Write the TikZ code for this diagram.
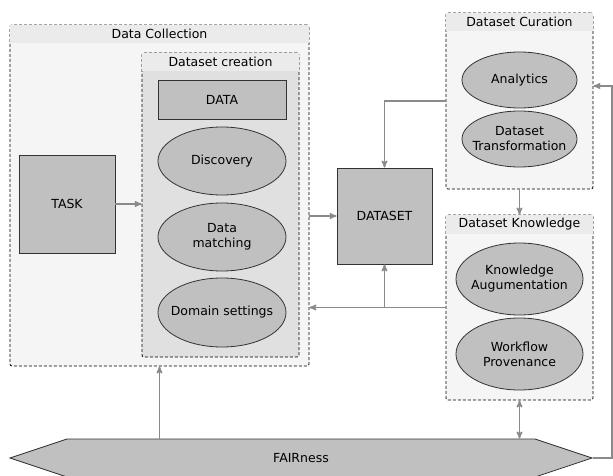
\documentclass[tikz,border=0pt]{standalone}
\usepackage{fontspec}
\setmainfont{DejaVu Sans}
\usepackage{xcolor}
\usepackage{tikz}
\usetikzlibrary{shapes}
\usetikzlibrary{arrows}
\definecolor{boxgray}{HTML}{F5F5F5}
\definecolor{bandgray}{HTML}{EBEBEB}
\definecolor{innergray}{HTML}{E0E0E0}
\definecolor{nodegray}{HTML}{C0C0C0}
\definecolor{linegray}{HTML}{8A8A8A}
\tikzset{
	main node/.style={rectangle,draw=black!80,fill=nodegray,line width=0.8pt,
		font=\fontsize{12.5}{15}\selectfont,align=center,inner sep=0pt},
	sub node/.style={ellipse,draw=black!80,fill=nodegray,line width=0.8pt,
		font=\fontsize{12.5}{15}\selectfont,align=center,inner xsep=-12pt,inner ysep=0pt},
	group box/.style={rectangle,draw=black,line width=0.8pt,
		dash pattern=on 3pt off 2pt,rounded corners=2pt,inner sep=0pt},
	band/.style={fill=bandgray},
	band text/.style={font=\fontsize{12.5}{15}\selectfont,inner sep=0pt},
	flow/.style={->,>=stealth',draw=linegray,line width=1.4pt},
	fair node/.style={signal,signal to=west and east,signal pointer angle=36.87,
		draw=black!80,fill=nodegray,line width=0.8pt,inner sep=0pt,
		font=\fontsize{12.5}{15}\selectfont}
}

\begin{document}
\begin{tikzpicture}[x=1pt,y=-1pt]
	\useasboundingbox (0,0) rectangle (613,476);
	% groups
	\node [group box,fill=boxgray,minimum width=299pt,minimum height=341pt] (coll) at (159.5,195.5) {};
	\fill [band] ([xshift=0.5pt,yshift=-0.5pt]coll.north west) rectangle ([xshift=-0.5pt,yshift=-18pt]coll.north east);
	\node [band text] (colltitle) at ([yshift=-9pt]coll.north) {Data Collection};
	\node [group box,fill=innergray,minimum width=157pt,minimum height=304pt] (create) at (220.5,205) {};
	\fill [band] ([xshift=0.5pt,yshift=-0.5pt]create.north west) rectangle ([xshift=-0.5pt,yshift=-18pt]create.north east);
	\node [band text] (createtitle) at ([yshift=-9pt]create.north) {Dataset creation};
	\node [group box,fill=boxgray,minimum width=147pt,minimum height=176pt] (cur) at (519.5,101) {};
	\fill [band] ([xshift=0.5pt,yshift=-0.5pt]cur.north west) rectangle ([xshift=-0.5pt,yshift=-18pt]cur.north east);
	\node [band text] (curtitle) at ([yshift=-9pt]cur.north) {Dataset Curation};
	\node [group box,fill=boxgray,minimum width=147pt,minimum height=185pt] (know) at (519.5,307.5) {};
	\fill [band] ([xshift=0.5pt,yshift=-0.5pt]know.north west) rectangle ([xshift=-0.5pt,yshift=-19pt]know.north east);
	\node [band text] (knowtitle) at ([yshift=-9.5pt]know.north) {Dataset Knowledge};
	% nodes
	\node [main node,minimum width=96pt,minimum height=98pt] (task) at (67,204) {TASK};
	\node [main node,minimum width=128pt,minimum height=39pt] (data) at (222,99.5) {DATA};
	\node [sub node,minimum width=128pt,minimum height=68pt] (disc) at (222,161) {Discovery};
	\node [sub node,minimum width=128pt,minimum height=68pt] (match) at (222,237) {Data\\matching};
	\node [sub node,minimum width=128pt,minimum height=69pt] (domain) at (222,312.5) {Domain settings};
	\node [main node,minimum width=95pt,minimum height=96pt] (dataset) at (384.5,216) {DATASET};
	\node [sub node,minimum width=115pt,minimum height=56pt] (analytics) at (519.5,80) {Analytics};
	\node [sub node,minimum width=115pt,minimum height=56pt] (transf) at (519.5,139) {Dataset\\Transformation};
	\node [sub node,minimum width=127pt,minimum height=72pt] (augm) at (519.5,279) {Knowledge\\Augumentation};
	\node [sub node,minimum width=127pt,minimum height=72pt] (prov) at (519.5,354) {Workflow\\Provenance};
	\node [fair node,minimum width=582pt,minimum height=38pt] (fair) at (301,458) {FAIRness};
	\coordinate (back) at (612,86);
	% connectors
	\draw [flow] (task) -- (task -| create.west);
	\draw [flow] (coll.east |- dataset) -- (dataset.west);
	\draw [flow] (cur.west) -| (dataset.north);
	\draw [flow] (cur.south) -- (know.north);
	\draw [flow] (know.west) -- (know.west -| coll.east);
	\draw [flow] (know.west -| dataset) -- (dataset.south);
	\draw [flow,<->] (know.south) -- (know.south |- fair.north);
	\draw [flow] (coll.south |- fair.north) -- (coll.south);
	\draw [flow] (fair.east) -| (back) -- (back -| cur.east);
\end{tikzpicture}
\end{document}
